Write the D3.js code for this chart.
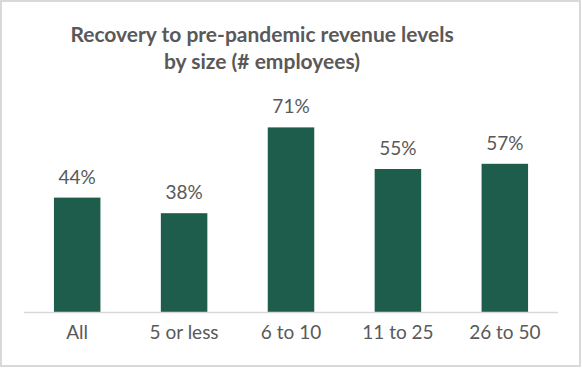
<!DOCTYPE html>
<html>
<head>
<meta charset="utf-8">
<script src="https://cdn.jsdelivr.net/npm/d3@7"></script>
<style>
  body { margin: 0; background: #fff; }
  svg { display: block; font-family: Lato, "Open Sans", sans-serif; }
</style>
</head>
<body>
<svg width="582" height="368"></svg>
<script>
// chart data
var categories = ["All", "5 or less", "6 to 10", "11 to 25", "26 to 50"];
var values = [44, 38, 71, 55, 57];
var titleLines = ["Recovery to pre-pandemic revenue levels", "by size (# employees)"];

var svg = d3.select('svg');
var W = 582, H = 368;

// outer frame
svg.append('rect')
	.attr('x', 1).attr('y', 1)
	.attr('width', W - 3).attr('height', H - 3)
	.style('fill', '#fff')
	.style('stroke', '#d9d9d9')
	.style('stroke-width', 2);

var x = d3.scaleBand()
	.domain(categories)
	.range([24, 558])
	.paddingInner(0.565)
	.paddingOuter(0.28);

var y = d3.scaleLinear()
	.domain([0, 80])
	.range([312, 104]);

// title
svg.append('g').selectAll('text')
	.data(titleLines)
	.enter()
	.append('text')
	.attr('x', 262)
	.attr('y', function(d, i){ return 42 + i * 27 })
	.attr('text-anchor', 'middle')
	.style('font-size', '21px')
	.style('font-weight', 'bold')
	.style('fill', '#595959')
	.text(function(d){ return d });

// bars
svg.append('g').selectAll('rect')
	.data(values)
	.enter()
	.append('rect')
	.attr('x', function(d, i){ return x(categories[i]) })
	.attr('y', function(d){ return y(d) })
	.attr('width', x.bandwidth())
	.attr('height', function(d){ return y(0) - y(d) })
	.style('fill', '#1e5c4b');

// value labels
svg.append('g').selectAll('text')
	.data(values)
	.enter()
	.append('text')
	.attr('x', function(d, i){ return x(categories[i]) + x.bandwidth() / 2 })
	.attr('y', function(d){ return y(d) - 14 })
	.attr('text-anchor', 'middle')
	.style('font-size', '19px')
	.style('fill', '#595959')
	.text(function(d){ return d + '%' });

// x axis
var xAxis = svg.append('g')
	.attr('transform', 'translate(0,312)')
	.call(d3.axisBottom(x).tickSize(0).tickPadding(14));

xAxis.select('.domain')
	.attr('d', 'M24,0.5H558')
	.style('stroke', '#d9d9d9')
	.style('stroke-width', 1.5);

xAxis.selectAll('text')
	.style('font-family', 'Lato, "Open Sans", sans-serif')
	.style('font-size', '19px')
	.style('fill', '#595959');
</script>
</body>
</html>
